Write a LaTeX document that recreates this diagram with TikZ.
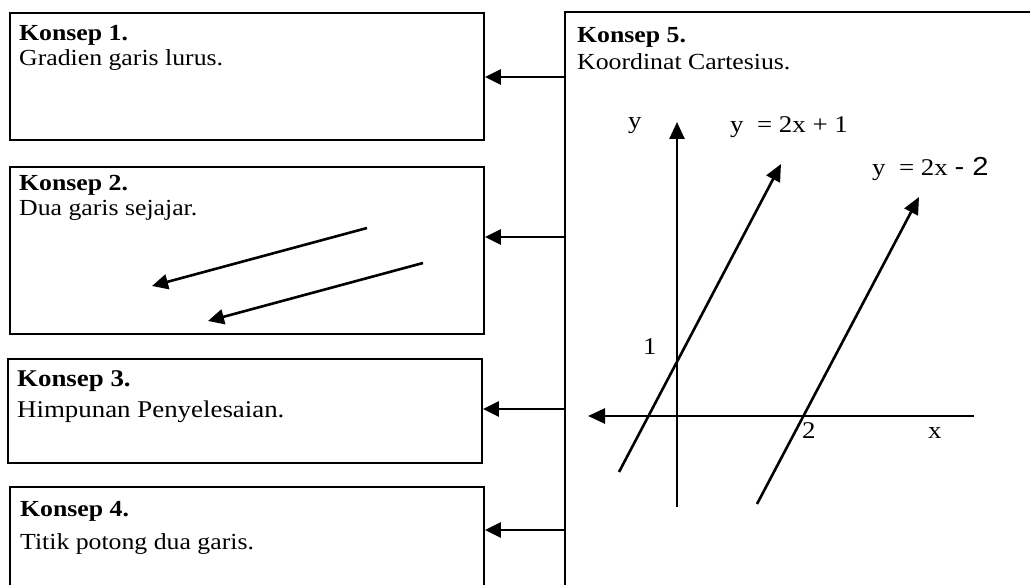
\documentclass[tikz,border=0pt]{standalone}
\usepackage{fontspec}
\setmainfont{Liberation Serif}[FakeStretch=1.12]
\newfontfamily\sansalt{Liberation Sans}[FakeStretch=1.12]
\usetikzlibrary{arrows.meta,calc}
\begin{document}
\begin{tikzpicture}[x=1pt,y=-1pt,
  boxstyle/.style={draw, line width=1.9pt, rectangle, inner sep=0pt, anchor=north west},
  ttl/.style={anchor=base west, inner sep=0pt, font=\fontsize{23}{28}\selectfont\bfseries},
  txt/.style={anchor=base west, inner sep=0pt, font=\fontsize{23}{28}\selectfont},
  bigttl/.style={ttl, font=\fontsize{24}{28}\selectfont\bfseries},
  bigtxt/.style={txt, font=\fontsize{24}{28}\selectfont},
  lbl/.style={anchor=base west, inner sep=0pt, font=\fontsize{24}{28}\selectfont},
  link/.style={line width=2.6pt, -{Triangle[length=16pt,width=15pt]}},
  garrow/.style={line width=2.6pt, -{Triangle[length=17pt,width=15pt]}},
]
\useasboundingbox (0,0) rectangle (1030,585);
\clip (0,0) rectangle (1030,585);

% boxes
\node[boxstyle, minimum width=474pt, minimum height=127pt] (b1) at (9,12) {};
\node[boxstyle, minimum width=474pt, minimum height=167pt] (b2) at (9,166) {};
\node[boxstyle, minimum width=474pt, minimum height=104pt] (b3) at (7,358) {};
\node[boxstyle, minimum width=474pt, minimum height=130pt] (b4) at (9,486) {};
\node[boxstyle, minimum width=480pt, minimum height=600pt] (b5) at (564,11) {};

% texts
\node[ttl] (t1) at (19,41) {Konsep 1.};
\node[txt] (d1) at (19,66) {Gradien garis lurus.};
\node[ttl] (t2) at (19,191) {Konsep 2.};
\node[txt] (d2) at (19,216) {Dua garis sejajar.};
\node[bigttl] (t3) at (17,386) {Konsep 3.};
\node[bigtxt] (d3) at (17,417) {Himpunan Penyelesaian.};
\node[ttl] (t4) at (20,516) {Konsep 4.};
\node[txt] (d4) at (20,549) {Titik potong dua garis.};
\node[ttl] (t5) at (577,43) {Konsep 5.};
\node[txt] (d5) at (577,70) {Koordinat Cartesius.};

% links from Konsep 5 to the others
\draw[link] (b5.west |- 0,77) -- (b1.east |- 0,77);
\draw[link] (b5.west |- 0,237) -- (b2.east |- 0,237);
\draw[link] (b5.west |- 0,409) -- (b3.east |- 0,409);
\draw[link] (b5.west |- 0,530) -- (b4.east |- 0,530);

% parallel arrows in Konsep 2
\coordinate (pa1) at (367,228); \coordinate (pa2) at (152,286);
\coordinate (pb1) at (423,263); \coordinate (pb2) at (208,321);
\draw[link] (pa1) -- (pa2);
\draw[link] (pb1) -- (pb2);

% coordinate system
\coordinate (yb) at (677,507); \coordinate (yt) at (677,122);
\coordinate (xr) at (974,416); \coordinate (xl) at (588,416);
\draw[garrow] (yb) -- (yt);
\draw[garrow] (xr) -- (xl);
\coordinate (l1a) at (619,472); \coordinate (l1b) at (781,164);
\coordinate (l2a) at (757,504); \coordinate (l2b) at (919,197);
\draw[garrow] (l1a) -- (l1b);
\draw[garrow] (l2a) -- (l2b);

% labels
\node[lbl] (ly) at (628,129) {y};
\node[lbl] (e1) at (730,133) {y~~= 2x + 1};
\node[lbl] (e2) at (872,176) {y~~= 2x {\sansalt\fontsize{26}{28}\selectfont - 2}};
\node[lbl] (one) at (643,354) {1};
\node[lbl] (two) at (802,438) {2};
\node[lbl] (lx) at (928,438) {x};
\end{tikzpicture}
\end{document}
